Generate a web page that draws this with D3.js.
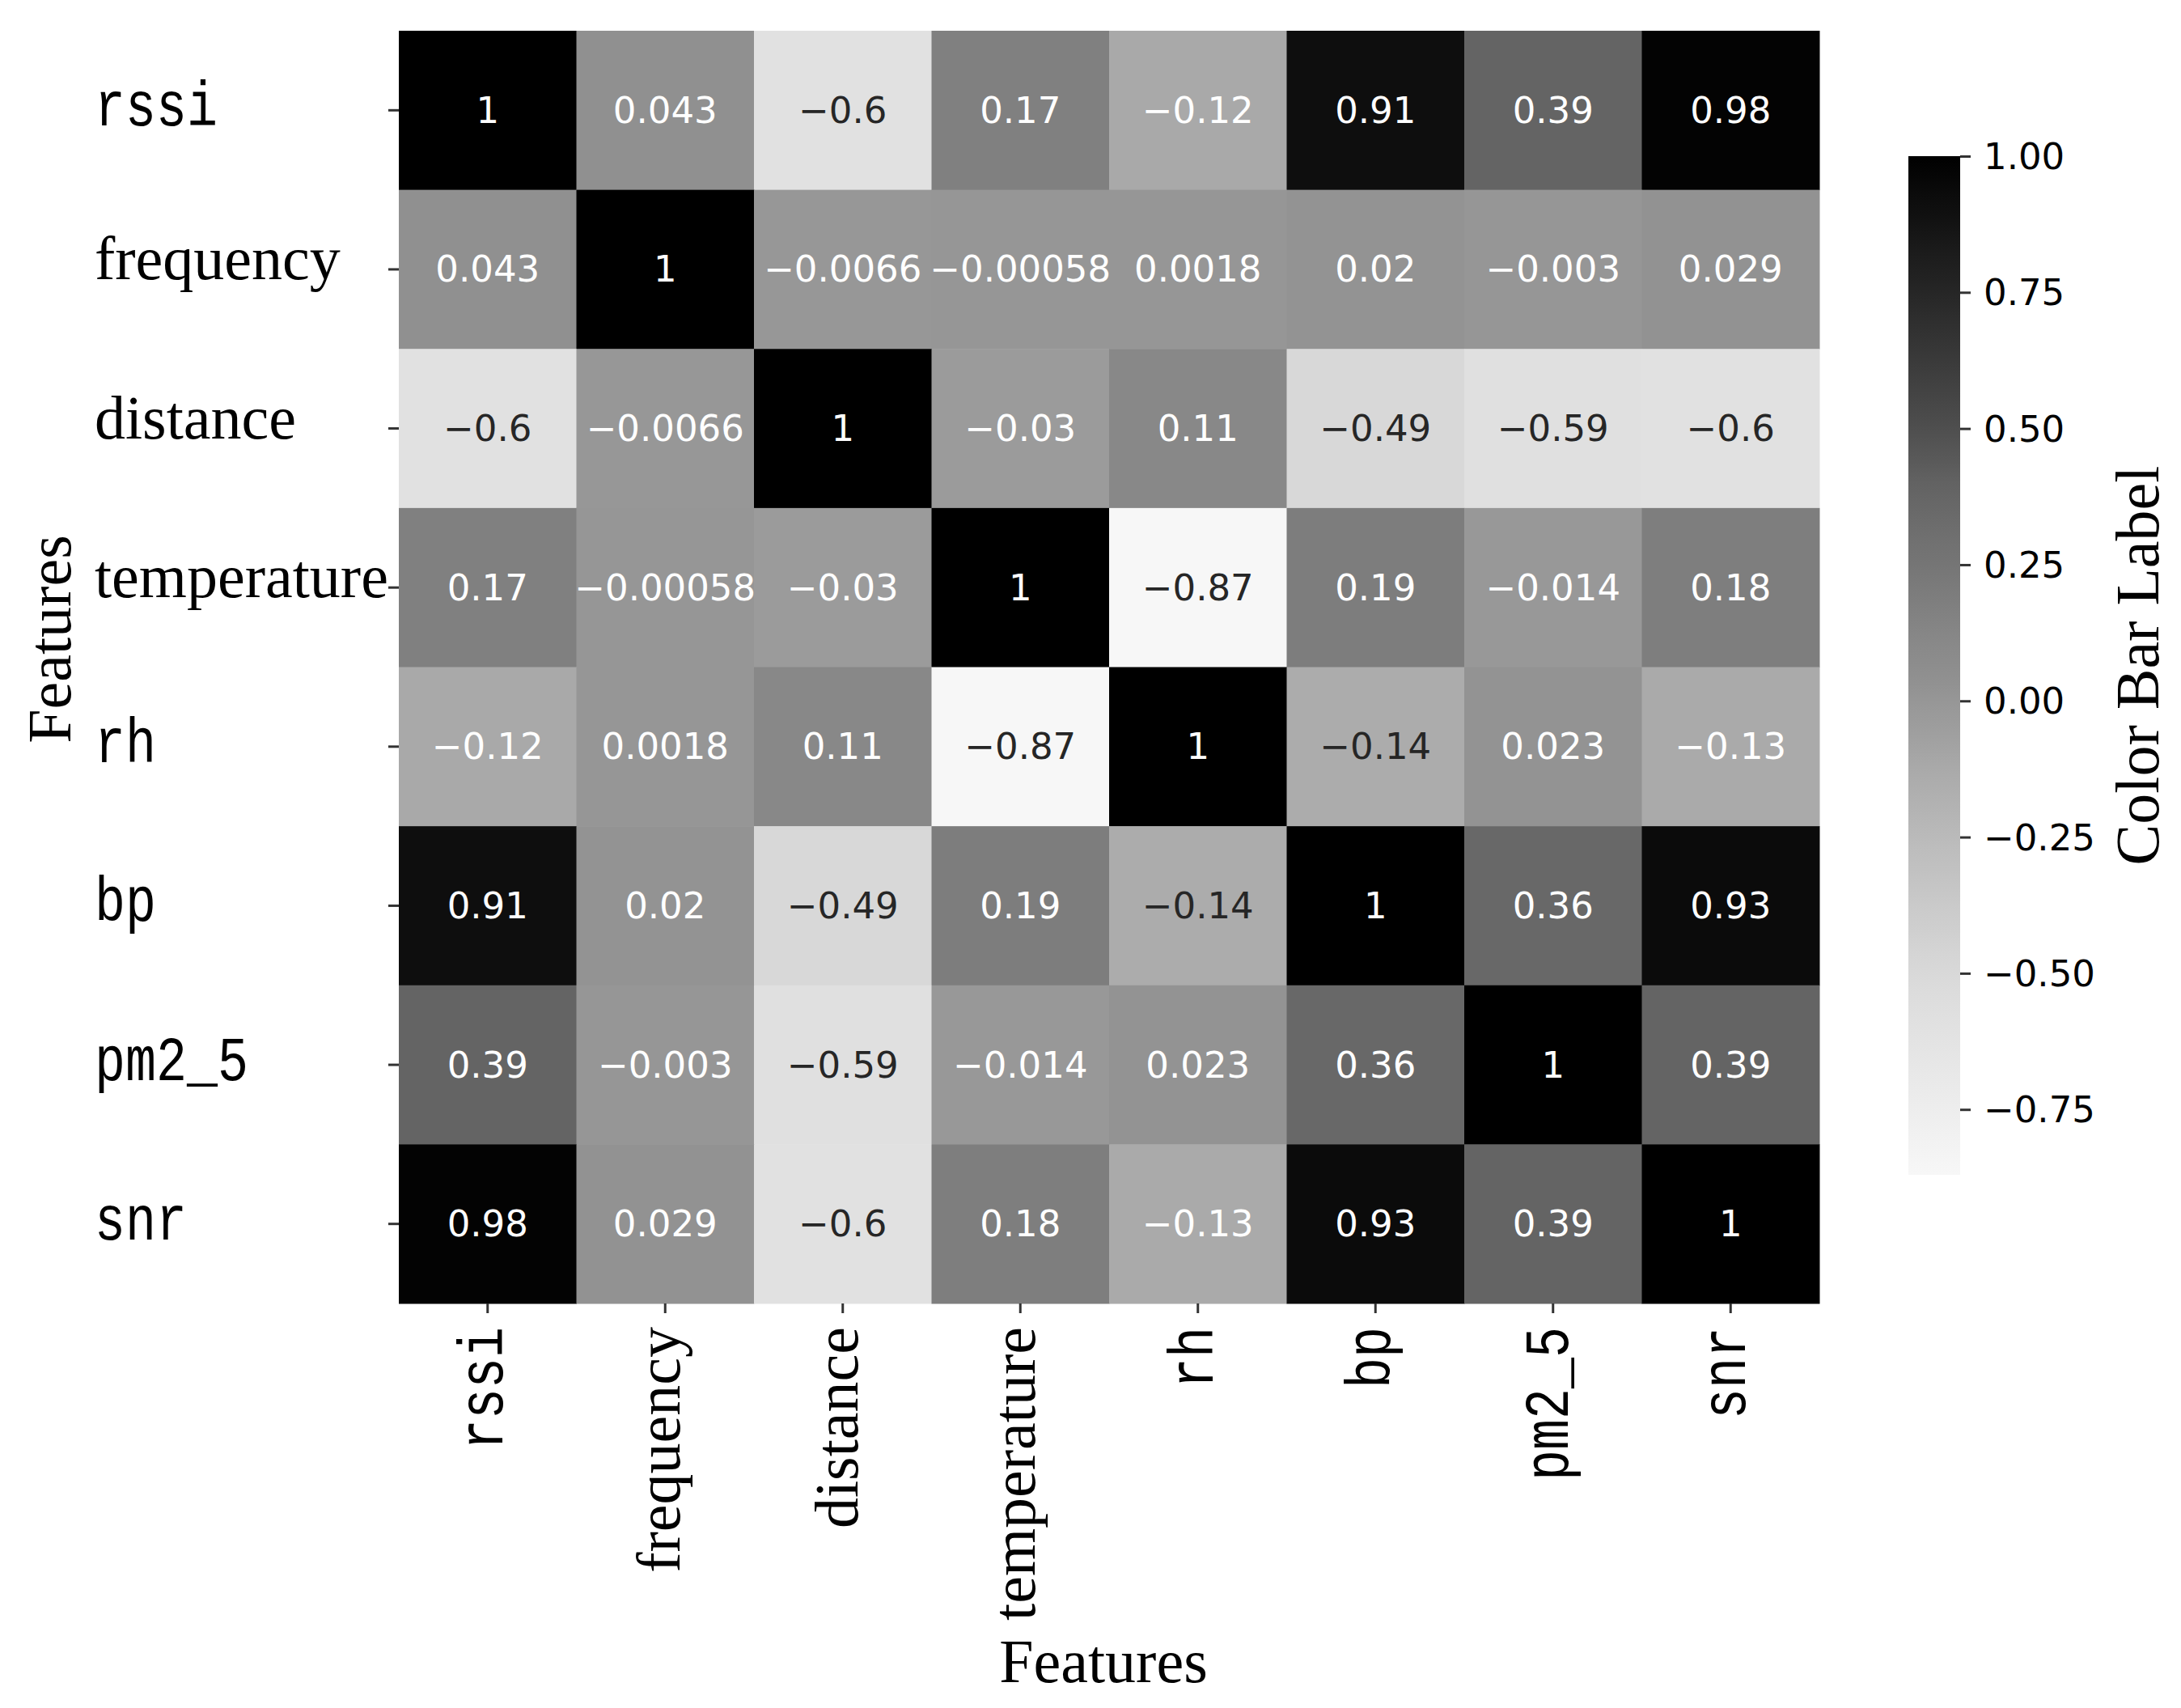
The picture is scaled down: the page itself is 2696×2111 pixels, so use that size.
<!DOCTYPE html>
<meta charset="utf-8">
<style>
body { margin: 0; background: #fff; }
svg { display: block; }
.tick line { stroke: #333; stroke-width: 3; }
</style>
<body>
<script src="https://cdn.jsdelivr.net/npm/d3@7"></script>
<script>

// feature names, same order on both axes
var features = ["rssi", "frequency", "distance", "temperature", "rh", "bp", "pm2_5", "snr"];
// names that were set in typewriter font in the original figure
var monoFeatures = ["rssi", "rh", "bp", "pm2_5", "snr"];

// correlation matrix, one row per feature
var rssiRow        = [1, 0.043, -0.6, 0.17, -0.12, 0.91, 0.39, 0.98];
var frequencyRow   = [0.043, 1, -0.0066, -0.00058, 0.0018, 0.02, -0.003, 0.029];
var distanceRow    = [-0.6, -0.0066, 1, -0.03, 0.11, -0.49, -0.59, -0.6];
var temperatureRow = [0.17, -0.00058, -0.03, 1, -0.87, 0.19, -0.014, 0.18];
var rhRow          = [-0.12, 0.0018, 0.11, -0.87, 1, -0.14, 0.023, -0.13];
var bpRow          = [0.91, 0.02, -0.49, 0.19, -0.14, 1, 0.36, 0.93];
var pm25Row        = [0.39, -0.003, -0.59, -0.014, 0.023, 0.36, 1, 0.39];
var snrRow         = [0.98, 0.029, -0.6, 0.18, -0.13, 0.93, 0.39, 1];
var corrRows = [rssiRow, frequencyRow, distanceRow, temperatureRow, rhRow, bpRow, pm25Row, snrRow];

var colorbarTicks = [1, 0.75, 0.5, 0.25, 0, -0.25, -0.5, -0.75];
var valueMin = -0.87, valueMax = 1;

var axisTitle = "Features";
var colorbarTitle = "Color Bar Label";


var width = 2696, height = 2111;
var serif = "'Liberation Serif', 'Times New Roman', serif",
    mono = "'Liberation Mono', 'Courier New', monospace",
    sans = "'DejaVu Sans', sans-serif";

// grey ramp (the picture is a bit darker than plain Greys)
var color = d3.scaleLinear()
  .domain([-0.87, -0.6, -0.49, -0.14, 0, 0.19, 0.39, 0.5, 0.75, 0.93, 1])
  .range([247, 225, 216, 172, 150, 125, 100, 78, 38, 11, 0].map(function(g) { return d3.rgb(g, g, g).toString(); }))
  .clamp(true);

function luminance(c) {
  var r = d3.rgb(c);
  var ch = [r.r, r.g, r.b].map(function(v) {
    v /= 255;
    return v <= 0.03928 ? v / 12.92 : Math.pow((v + 0.055) / 1.055, 2.4);
  });
  return 0.2126 * ch[0] + 0.7152 * ch[1] + 0.0722 * ch[2];
}

var x = d3.scaleBand().domain(features).range([493, 2249]);
var y = d3.scaleBand().domain(features).range([38, 1611]);

var svg = d3.select("body").append("svg")
  .attr("width", width)
  .attr("height", height);

var cells = [];
corrRows.forEach(function(row, i) {
  row.forEach(function(v, j) {
    cells.push({row: features[i], col: features[j], value: v});
  });
});

var fmt = d3.format(".2~g");

svg.append("g").selectAll("rect")
  .data(cells)
  .enter().append("rect")
    .attr("x", function(d) { return x(d.col); })
    .attr("y", function(d) { return y(d.row); })
    .attr("width", x.bandwidth() + 0.5)
    .attr("height", y.bandwidth() + 0.5)
    .attr("fill", function(d) { return color(d.value); });

svg.append("g").selectAll("text")
  .data(cells)
  .enter().append("text")
    .attr("x", function(d) { return x(d.col) + x.bandwidth() / 2; })
    .attr("y", function(d) { return y(d.row) + y.bandwidth() / 2; })
    .attr("text-anchor", "middle")
    .attr("dominant-baseline", "central")
    .style("font-family", sans)
    .style("font-size", "45px")
    .attr("fill", function(d) { return luminance(color(d.value)) > 0.408 ? "#262626" : "#ffffff"; })
    .text(function(d) { return fmt(d.value); });

function isMono(d) { return monoFeatures.indexOf(d) >= 0; }

function styleLabel(sel) {
  sel.style("font-family", function(d) { return isMono(d) ? mono : serif; })
    .style("font-size", function(d) { return isMono(d) ? "78px" : "76px"; })
    .attr("fill", "#000")
    .each(function(d) {
      if (isMono(d)) {
        d3.select(this)
          .attr("textLength", d.length * 38)
          .attr("lengthAdjust", "spacingAndGlyphs");
      }
    });
}

// y axis: labels are left aligned in the original
var yAxis = svg.append("g")
  .attr("transform", "translate(493,0)")
  .call(d3.axisLeft(y).tickSize(13));
yAxis.select(".domain").remove();
yAxis.selectAll(".tick text")
  .attr("x", 117 - 493)
  .attr("dy", null)
  .attr("y", function(d) { return isMono(d) ? 19 : 12; })
  .attr("text-anchor", "start")
  .call(styleLabel);

// x axis: labels turned to read upwards
var xAxis = svg.append("g")
  .attr("transform", "translate(0,1611)")
  .call(d3.axisBottom(x).tickSize(12));
xAxis.select(".domain").remove();
xAxis.selectAll(".tick text")
  .attr("transform", "rotate(-90)")
  .attr("x", -29)
  .attr("y", 18)
  .attr("dy", null)
  .attr("text-anchor", "end")
  .call(styleLabel);

svg.append("text")
  .attr("transform", "translate(87,790) rotate(-90)")
  .attr("text-anchor", "middle")
  .style("font-family", serif)
  .style("font-size", "76px")
  .text(axisTitle);

svg.append("text")
  .attr("x", 1364)
  .attr("y", 2079)
  .attr("text-anchor", "middle")
  .style("font-family", serif)
  .style("font-size", "76px")
  .text(axisTitle);

// colour bar
var cb = d3.scaleLinear().domain([valueMin, valueMax]).range([1452, 193]);

var grad = svg.append("defs").append("linearGradient")
  .attr("id", "cbgrad")
  .attr("x1", 0).attr("y1", 1).attr("x2", 0).attr("y2", 0);
d3.range(0, 1.0001, 0.02).forEach(function(t) {
  grad.append("stop")
    .attr("offset", t)
    .attr("stop-color", color(valueMin + t * (valueMax - valueMin)));
});

svg.append("rect")
  .attr("x", 2359)
  .attr("y", cb(valueMax))
  .attr("width", 64)
  .attr("height", cb(valueMin) - cb(valueMax))
  .attr("fill", "url(#cbgrad)");

var cbAxis = svg.append("g")
  .attr("transform", "translate(2423,0)")
  .call(d3.axisRight(cb).tickValues(colorbarTicks).tickSize(13).tickPadding(16).tickFormat(d3.format(".2f")));
cbAxis.select(".domain").remove();
cbAxis.selectAll(".tick text")
  .attr("dy", null)
  .attr("dominant-baseline", "central")
  .style("font-family", sans)
  .style("font-size", "45px")
  .attr("fill", "#000");

svg.append("text")
  .attr("transform", "translate(2668," + (cb(valueMin) + cb(valueMax)) / 2 + ") rotate(-90)")
  .attr("text-anchor", "middle")
  .style("font-family", serif)
  .style("font-size", "76px")
  .text(colorbarTitle);

</script>
